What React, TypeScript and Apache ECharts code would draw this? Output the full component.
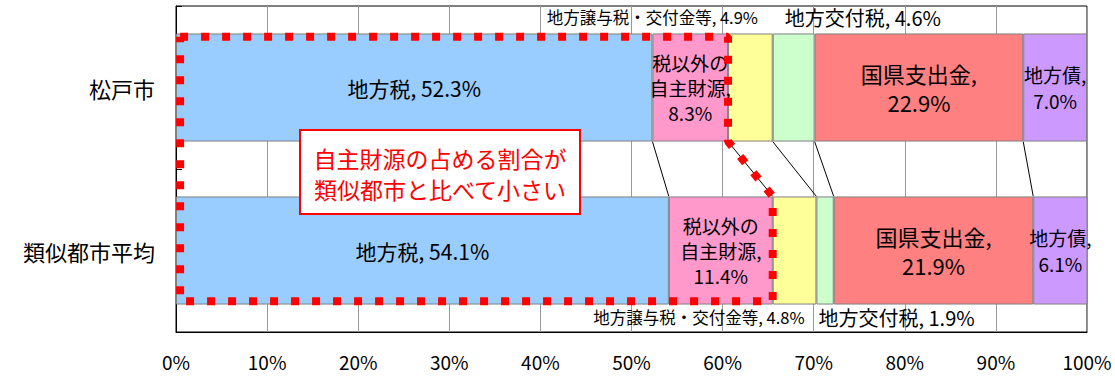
import React, { useEffect, useRef } from "react";
import * as echarts from "echarts";

// Revenue composition (%), one stacked bar per municipality
const categories = ["松戸市", "類似都市平均"];
const segmentNames = [
  "地方税",
  "税以外の自主財源",
  "地方譲与税・交付金等",
  "地方交付税",
  "国県支出金",
  "地方債",
];
const matsudoValues = [52.3, 8.3, 4.9, 4.6, 22.9, 7.0];
const similarCityValues = [54.1, 11.4, 4.8, 1.9, 21.9, 6.1];
const segmentColors = ["#99CCFF", "#FF99CC", "#FFFF99", "#CCFFCC", "#FF8080", "#CC99FF"];
const calloutLines = ["自主財源の占める割合が", "類似都市と比べて小さい"];

const FONT = "'Liberation Sans Narrow', 'Noto Sans CJK JP', sans-serif";
const CJK = "'Noto Sans CJK JP', sans-serif";

const BAR_RATIO = 0.663; // bar thickness as share of the category band
const HALF = BAR_RATIO / 2;
// hidden 0..2 value axis: 松戸市 band is 1..2, 類似都市平均 band is 0..1
const ROW_CENTER = [1.5, 0.5];

const cumulative = (vals: number[]) => {
  const out: number[] = [];
  vals.reduce((acc, v) => {
    const s = Math.round((acc + v) * 10) / 10;
    out.push(s);
    return s;
  }, 0);
  return out;
};

export default function App() {
  const ref = useRef<HTMLDivElement>(null);

  useEffect(() => {
    if (!ref.current) return;
    const chart = echarts.init(ref.current, undefined, { renderer: "svg" });

    const rows = [matsudoValues, similarCityValues];
    const topCum = cumulative(matsudoValues);
    const botCum = cumulative(similarCityValues);
    const topEdge = ROW_CENTER[0] - HALF; // lower edge of upper bar
    const botEdge = ROW_CENTER[1] + HALF; // upper edge of lower bar

    const fmt = (v: number) => v.toFixed(1);

    const innerLabel = (i: number) => {
      const base = {
        show: true,
        position: "inside",
        color: "#000",
        fontFamily: FONT,
      } as any;
      if (i === 0)
        return { ...base, fontSize: 21, formatter: (p: any) => `${p.seriesName}, ${fmt(p.value)}%` };
      if (i === 1)
        return {
          ...base,
          fontSize: 19,
          lineHeight: 25,
          formatter: (p: any) => `税以外の\n自主財源,\n${fmt(p.value)}%`,
        };
      if (i === 4)
        return {
          ...base,
          fontSize: 22,
          lineHeight: 29,
          formatter: (p: any) => `${p.seriesName},\n${fmt(p.value)}%`,
        };
      return {
        ...base,
        fontSize: 19,
        lineHeight: 26,
        formatter: (p: any) => `${p.seriesName},\n${fmt(p.value)}%`,
      };
    };

    // labels placed outside the narrow segments
    const outerLabel = (i: number, row: number) => {
      const isTransfer = i === 2;
      const pos =
        row === 0
          ? isTransfer
            ? [30, -16]
            : [12, -16]
          : isTransfer
          ? [32, 121]
          : [2, 121];
      return {
        show: true,
        position: pos,
        align: isTransfer ? "right" : "left",
        verticalAlign: "middle",
        color: "#000",
        fontFamily: FONT,
        fontSize: isTransfer ? 16.5 : 20,
        formatter: (p: any) => `${p.seriesName}, ${fmt(p.value)}%`,
      };
    };

    const barSeries = segmentNames.map((name, i) => ({
      type: "bar",
      name,
      stack: "total",
      yAxisIndex: 0,
      barWidth: `${BAR_RATIO * 100}%`,
      itemStyle: { color: segmentColors[i], borderColor: "#808080", borderWidth: 1 },
      label: i === 2 || i === 3 ? undefined : innerLabel(i),
      data: rows.map((r, row) => ({
        value: r[i],
        label: i === 2 || i === 3 ? outerLabel(i, row) : undefined,
      })),
      z: 2,
    }));

    const connectors = {
      type: "lines",
      coordinateSystem: "cartesian2d",
      xAxisIndex: 0,
      yAxisIndex: 1,
      silent: true,
      z: 3,
      lineStyle: { color: "#000", width: 1, opacity: 1 },
      data: topCum.slice(0, 5).map((t, k) => ({
        coords: [
          [t, topEdge],
          [botCum[k], botEdge],
        ],
      })),
    };

    // dotted outline around 地方税 + 税以外の自主財源 of both bars
    const inset = 0.02;
    const leftX = 0.45;
    const outline = {
      type: "line",
      xAxisIndex: 0,
      yAxisIndex: 1,
      symbol: "none",
      silent: true,
      clip: false,
      z: 5,
      lineStyle: { color: "#FF0000", width: 8, type: [8, 13], cap: "butt" },
      data: [
        [leftX, ROW_CENTER[0] + HALF - inset],
        [topCum[1], ROW_CENTER[0] + HALF - inset],
        [topCum[1], topEdge],
        [botCum[1], botEdge],
        [botCum[1], ROW_CENTER[1] - HALF + inset],
        [leftX, ROW_CENTER[1] - HALF + inset],
        [leftX, ROW_CENTER[0] + HALF - inset],
      ],
    };

    chart.setOption({
      animation: false,
      grid: {
        left: 176,
        right: 28,
        top: 6,
        bottom: 46,
        show: true,
        borderColor: "#000",
        borderWidth: 1,
        backgroundColor: "#fff",
      },
      xAxis: {
        type: "value",
        min: 0,
        max: 100,
        interval: 10,
        axisLine: { show: true, lineStyle: { color: "#000" } },
        axisTick: { show: false },
        splitLine: { show: true, lineStyle: { color: "#999", width: 1 } },
        axisLabel: {
          formatter: "{value}%",
          fontSize: 19,
          color: "#000",
          margin: 20,
          fontFamily: FONT,
        },
      },
      yAxis: [
        {
          type: "category",
          inverse: true,
          data: categories,
          axisLine: { show: true, lineStyle: { color: "#000" } },
          axisTick: { show: true, inside: true, length: 6, lineStyle: { color: "#000" } },
          axisLabel: { fontSize: 22, color: "#000", margin: 21, fontFamily: CJK },
        },
        { type: "value", min: 0, max: 2, show: false },
      ],
      series: [...barSeries, connectors, outline],
      graphic: [
        {
          type: "group",
          left: 299,
          top: 129,
          z: 100,
          children: [
            {
              type: "rect",
              z: 100,
              shape: { x: 0, y: 0, width: 280, height: 84 },
              style: { fill: "#fff", stroke: "#FF0000", lineWidth: 2 },
            },
            {
              type: "text",
              z: 101,
              x: 140,
              y: 43,
              style: {
                text: calloutLines.join("\n"),
                align: "center",
                verticalAlign: "middle",
                fontSize: 23,
                lineHeight: 31,
                fill: "#FF0000",
                fontFamily: CJK,
              },
            },
          ],
        },
      ],
    });

    return () => chart.dispose();
  }, []);

  return (
    <div
      ref={ref}
      style={{ position: "fixed", left: 0, top: 0, width: 1115, height: 378, background: "#fff" }}
    />
  );
}
